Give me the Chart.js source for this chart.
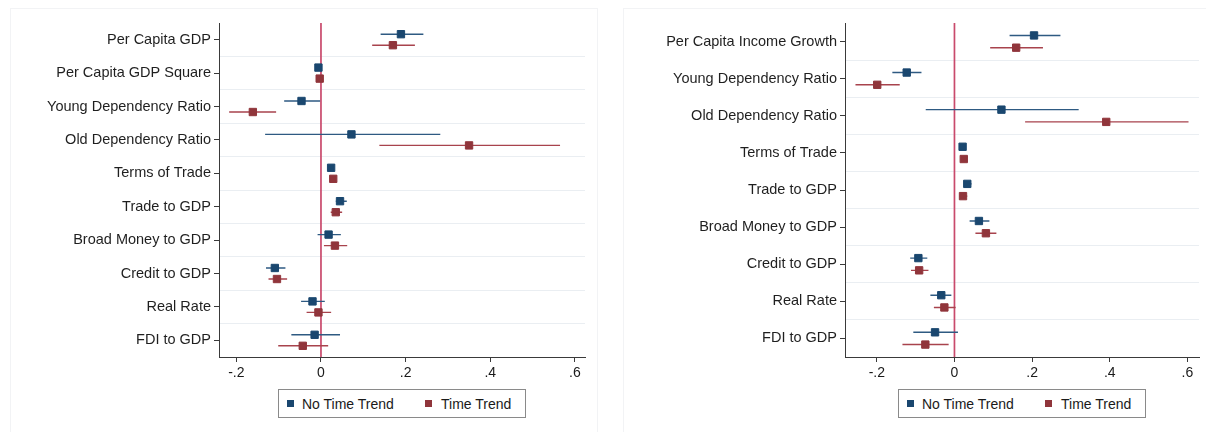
<!DOCTYPE html>
<html>
<head>
<meta charset="utf-8">
<title>Coefficient plots</title>
<script src="https://cdn.jsdelivr.net/npm/chart.js@4.4.1/dist/chart.umd.min.js"></script>
<style>
  html, body { margin: 0; padding: 0; background: #ffffff; width: 1206px; height: 432px; overflow: hidden;
    font-family: "Liberation Sans", Arial, Helvetica, sans-serif; }
  .frame { position: absolute; top: 8px; height: 440px; border: 1px solid #f2f3f5; box-sizing: border-box; }
  .wrap { position: absolute; top: 0; height: 432px; }
  .legend { position: absolute; top: 389px; width: 248px; height: 29px; border: 1px solid #8a8a8a;
    box-sizing: border-box; background: #fff; font-size: 14px; color: #1a1a1a; }
  .legend .sw { position: absolute; top: 10px; width: 7px; height: 7px; }
  .legend .lb { position: absolute; top: 6px; line-height: 16px; white-space: nowrap; }
</style>
</head>
<body>
<div class="frame" style="left:10px;width:588px;"></div>
<div class="frame" style="left:623px;width:600px;"></div>
<div class="wrap" style="left:0;width:600px;"><canvas id="leftChart"></canvas></div>
<div class="wrap" style="left:600px;width:606px;"><canvas id="rightChart"></canvas></div>

<div class="legend" style="left:278px;">
  <span class="sw" style="left:8px;background:#1a476f;"></span><span class="lb" style="left:23px;">No Time Trend</span>
  <span class="sw" style="left:146px;background:#90353b;"></span><span class="lb" style="left:162px;">Time Trend</span>
</div>
<div class="legend" style="left:898px;">
  <span class="sw" style="left:8px;background:#1a476f;"></span><span class="lb" style="left:23px;">No Time Trend</span>
  <span class="sw" style="left:146px;background:#90353b;"></span><span class="lb" style="left:162px;">Time Trend</span>
</div>

<script>
// ---- Left panel: per capita GDP specification ----
const leftCategories = ["Per Capita GDP", "Per Capita GDP Square", "Young Dependency Ratio", "Old Dependency Ratio",
  "Terms of Trade", "Trade to GDP", "Broad Money to GDP", "Credit to GDP", "Real Rate", "FDI to GDP"];
const leftNoTrend     = [0.189, -0.006, -0.046,  0.072, 0.024, 0.045,  0.018, -0.109, -0.020, -0.015];
const leftNoTrendLow  = [0.141, -0.009, -0.087, -0.132, 0.020, 0.035, -0.008, -0.130, -0.047, -0.070];
const leftNoTrendHigh = [0.242, -0.003, -0.002,  0.282, 0.028, 0.061,  0.047, -0.084,  0.009,  0.045];
const leftTrend       = [0.170, -0.003, -0.161,  0.350, 0.029, 0.035,  0.033, -0.104, -0.006, -0.043];
const leftTrendLow    = [0.121, -0.006, -0.217,  0.138, 0.025, 0.023,  0.007, -0.124, -0.034, -0.101];
const leftTrendHigh   = [0.222,  0.000, -0.106,  0.565, 0.033, 0.050,  0.062, -0.080,  0.024,  0.017];

// ---- Right panel: per capita income growth specification ----
const rightCategories = ["Per Capita Income Growth", "Young Dependency Ratio", "Old Dependency Ratio", "Terms of Trade",
  "Trade to GDP", "Broad Money to GDP", "Credit to GDP", "Real Rate", "FDI to GDP"];
const rightNoTrend     = [0.205, -0.123,  0.121, 0.021, 0.033, 0.063, -0.093, -0.034, -0.050];
const rightNoTrendLow  = [0.142, -0.160, -0.074, 0.017, 0.025, 0.039, -0.114, -0.062, -0.106];
const rightNoTrendHigh = [0.273, -0.085,  0.320, 0.025, 0.044, 0.090, -0.070, -0.008,  0.009];
const rightTrend       = [0.159, -0.199,  0.391, 0.024, 0.022, 0.081, -0.091, -0.026, -0.075];
const rightTrendLow    = [0.092, -0.255,  0.182, 0.020, 0.013, 0.054, -0.112, -0.053, -0.134];
const rightTrendHigh   = [0.228, -0.141,  0.603, 0.028, 0.033, 0.108, -0.067,  0.003, -0.015];

const xTickValues = [-0.2, 0, 0.2, 0.4, 0.6];
const referenceValue = [0];

const seriesNames = ["No Time Trend", "Time Trend"];

// ---- Styling ----
const BLUE = "#1a476f", RED = "#90353b";
const BLUE_CI = "#2e5a82", RED_CI = "#a8434d";
const ZERO_LINE = "#c94a6c";
const AXIS = "#3a3a3a", GRID = "#eaeef2";
const ROW_SHIFT = 0.165;
const labelFont = { family: "'Liberation Sans', Arial, Helvetica, sans-serif", size: 14.5 };
const tickFont = { family: "'Liberation Sans', Arial, Helvetica, sans-serif", size: 14 };

function stataNumber(v) {
  const s = String(+v.toFixed(2));
  return s.replace(/^(-?)0\./, "$1.");
}

function markerPoints(values, shift) {
  return values.map((v, i) => ({ x: v, y: i + 1 + shift }));
}

function intervalPoints(low, high, shift) {
  const pts = [];
  low.forEach((lo, i) => {
    const y = i + 1 + shift;
    pts.push({ x: lo, y: y }, { x: high[i], y: y }, { x: high[i], y: null });
  });
  return pts;
}

function buildChart(canvasId, cats, noT, noLo, noHi, tr, trLo, trHi, opts) {
  const n = cats.length;
  const clear = "rgba(0,0,0,0)";
  const isRow = v => Math.abs(v - Math.round(v)) < 1e-9;
  return new Chart(document.getElementById(canvasId), {
    type: "scatter",
    data: {
      datasets: [
        { label: "zero", type: "line", data: [{ x: referenceValue[0], y: 0.5 }, { x: referenceValue[0], y: n + 0.5 }],
          borderColor: ZERO_LINE, borderWidth: 1.7, pointRadius: 0, showLine: true, order: 10 },
        { label: seriesNames[0] + " CI", type: "line", data: intervalPoints(noLo, noHi, -ROW_SHIFT),
          borderColor: BLUE_CI, borderWidth: 1.4, pointRadius: 0, showLine: true, spanGaps: false, order: 5 },
        { label: seriesNames[1] + " CI", type: "line", data: intervalPoints(trLo, trHi, ROW_SHIFT),
          borderColor: RED_CI, borderWidth: 1.4, pointRadius: 0, showLine: true, spanGaps: false, order: 5 },
        { label: seriesNames[0], data: markerPoints(noT, -ROW_SHIFT), pointStyle: "rect", pointRadius: 5.2,
          backgroundColor: BLUE, borderColor: BLUE, borderWidth: 1, order: 1 },
        { label: seriesNames[1], data: markerPoints(tr, ROW_SHIFT), pointStyle: "rect", pointRadius: 5.2,
          backgroundColor: RED, borderColor: RED, borderWidth: 1, order: 1 }
      ]
    },
    options: {
      responsive: true,
      maintainAspectRatio: false,
      animation: false,
      events: [],
      layout: { padding: { left: 0, right: opts.padRight, top: 23, bottom: 45 } },
      plugins: { legend: { display: false }, tooltip: { enabled: false } },
      scales: {
        x: {
          type: "linear", min: opts.xMin, max: opts.xMax,
          afterBuildTicks: s => { s.ticks = xTickValues.map(v => ({ value: v })); },
          afterFit: s => { s.height = 30; },
          ticks: { callback: v => stataNumber(v), font: tickFont, color: "#1a1a1a", padding: 3,
                   maxRotation: 0, autoSkip: false },
          grid: { drawOnChartArea: false, tickColor: AXIS, tickLength: 5, lineWidth: 1 },
          border: { display: true, color: AXIS, width: 1 }
        },
        y: {
          type: "linear", reverse: true, min: 0.5, max: n + 0.5,
          afterBuildTicks: s => {
            const t = [];
            for (let k = 1; k <= 2 * n + 1; k++) t.push({ value: k / 2 });
            s.ticks = t;
          },
          afterFit: s => { s.width = opts.yWidth; },
          ticks: { autoSkip: false, font: labelFont, color: "#1f1f1f", padding: 3,
                   callback: v => isRow(v) ? cats[Math.round(v) - 1] : "" },
          grid: {
            lineWidth: 1, tickLength: 5,
            color: ctx => (ctx.tick && !isRow(ctx.tick.value) && ctx.tick.value > 0.6 && ctx.tick.value < n + 0.4) ? GRID : clear,
            tickColor: ctx => (ctx.tick && isRow(ctx.tick.value)) ? AXIS : clear
          },
          border: { display: true, color: AXIS, width: 1 }
        }
      }
    }
  });
}

buildChart("leftChart", leftCategories, leftNoTrend, leftNoTrendLow, leftNoTrendHigh,
  leftTrend, leftTrendLow, leftTrendHigh, { xMin: -0.241, xMax: 0.624, yWidth: 219, padRight: 15 });

buildChart("rightChart", rightCategories, rightNoTrend, rightNoTrendLow, rightNoTrendHigh,
  rightTrend, rightTrendLow, rightTrendHigh, { xMin: -0.282, xMax: 0.630, yWidth: 245, padRight: 7 });
</script>
</body>
</html>
